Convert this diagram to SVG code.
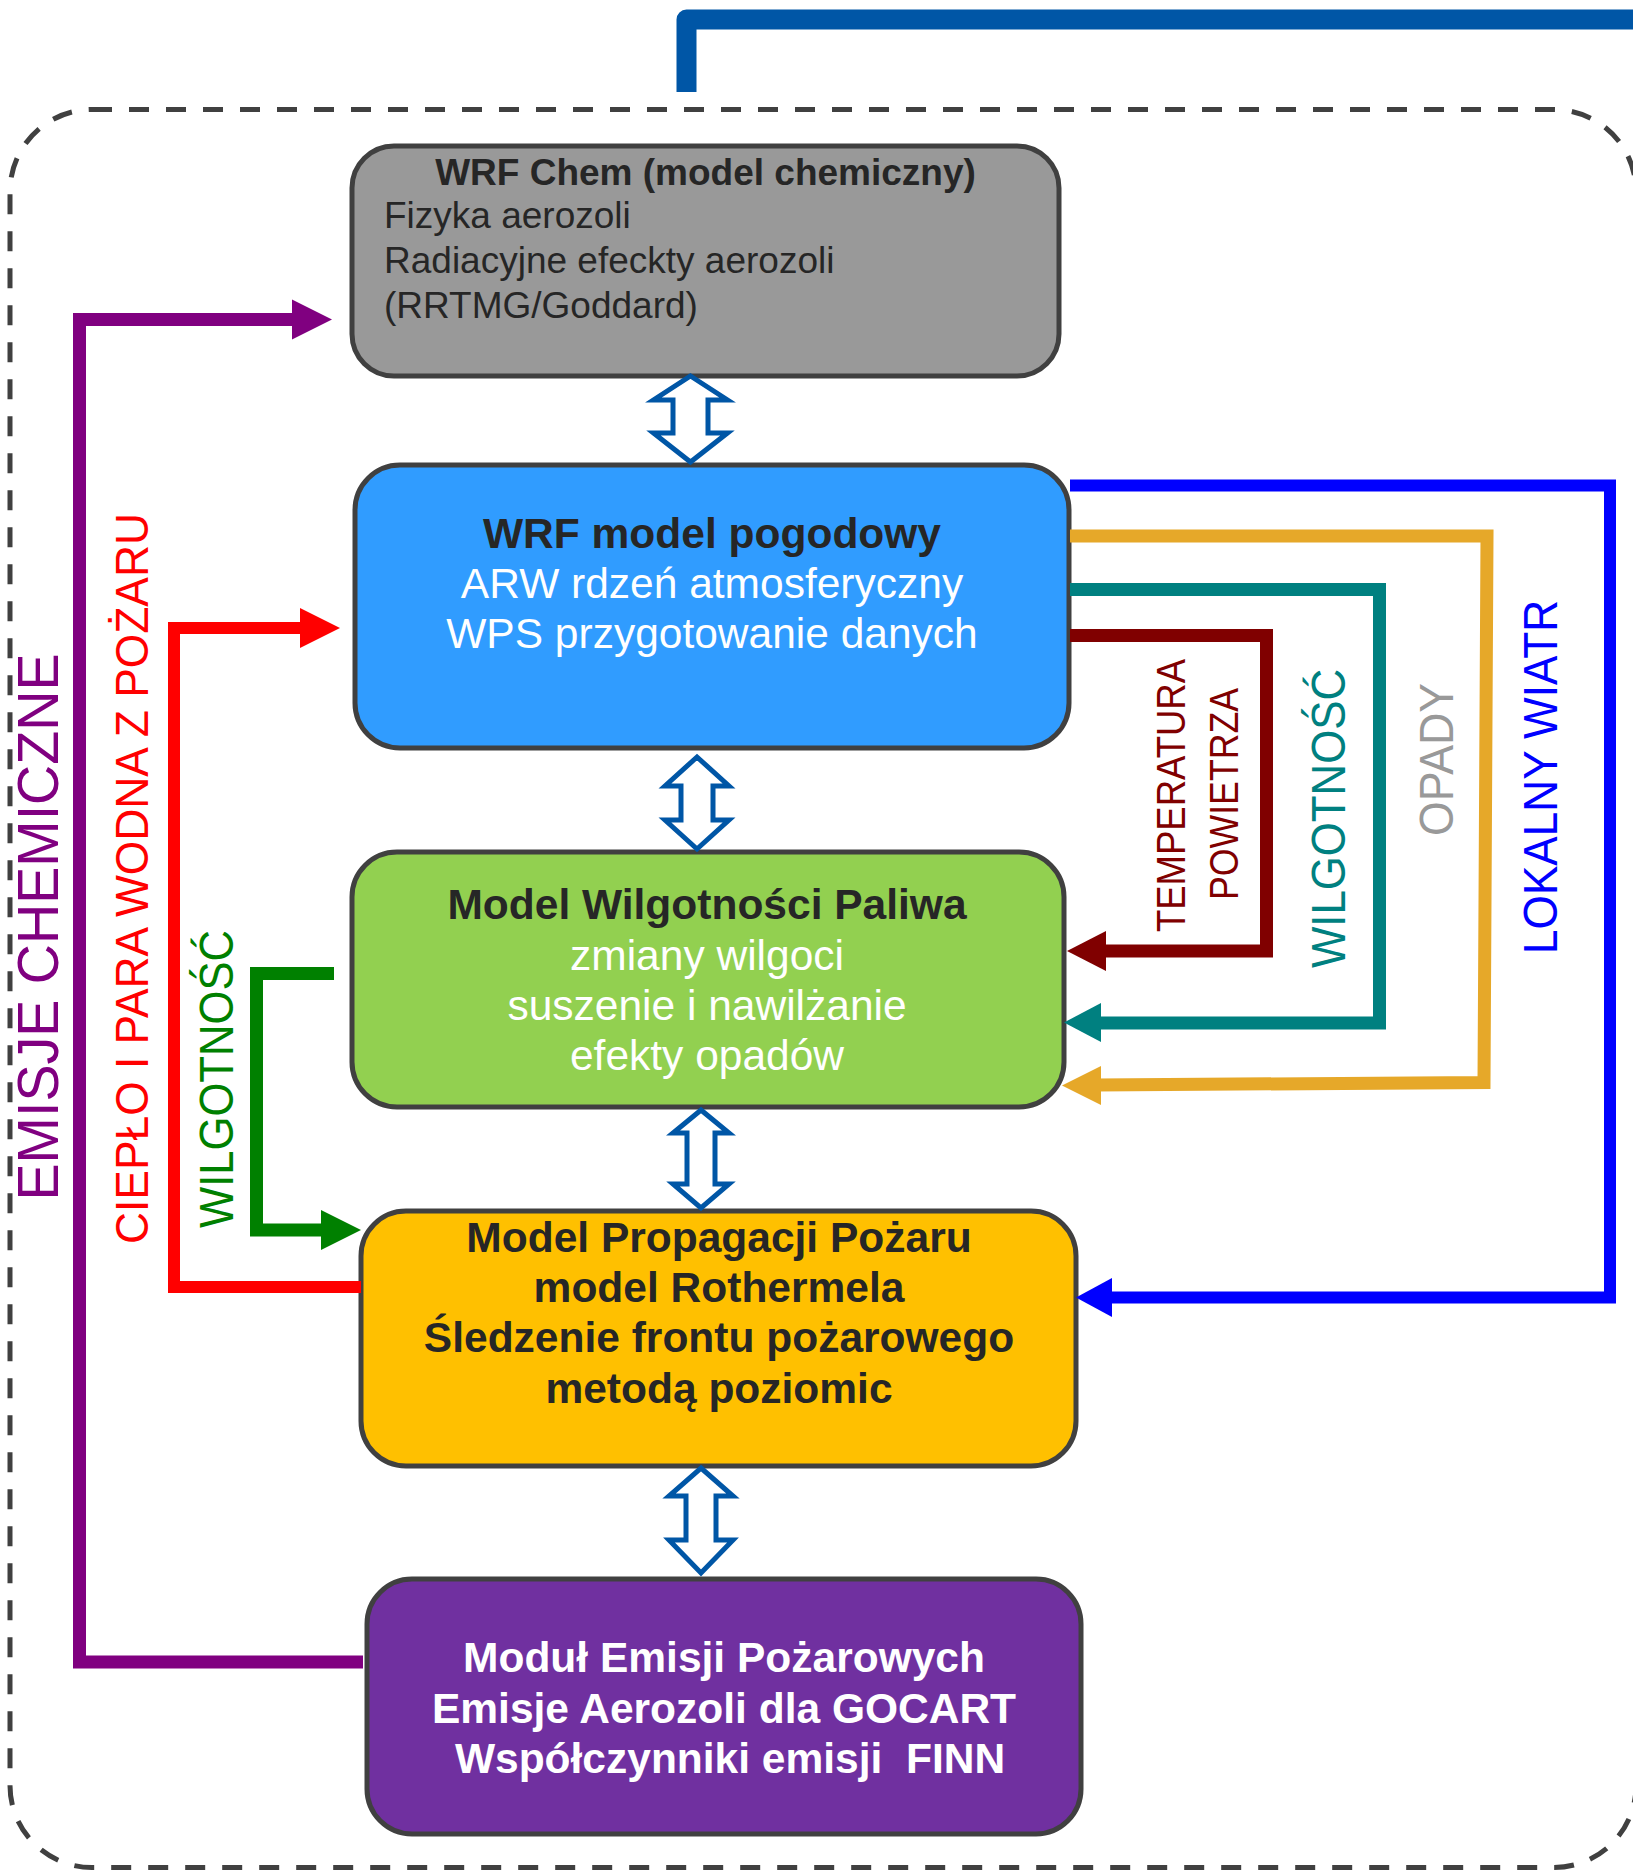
<svg xmlns="http://www.w3.org/2000/svg" width="1633" height="1870" viewBox="0 0 1633 1870">
  <style>
    .node { stroke: #404040; stroke-width: 5; }
    .txt { font-family: "Liberation Sans", Arial, sans-serif; }
    .b { font-weight: bold; }
    .mid { text-anchor: middle; }
    .dark { fill: #262626; }
    .white { fill: #ffffff; }
    .f37 { font-size: 37px; }
    .f42 { font-size: 42.5px; }
    .link { fill: none; stroke-linejoin: miter; }
    .dbl { fill: #ffffff; stroke: #0056A6; stroke-width: 5; stroke-linejoin: miter; }
    .vlab { font-family: "Liberation Sans", Arial, sans-serif; text-anchor: middle; }
  </style>

  <!-- dashed system boundary -->
  <rect id="frame" x="10" y="109.5" width="1626" height="1758" rx="82" ry="82"
        fill="none" stroke="#404040" stroke-width="5" stroke-dasharray="20 17"/>

  <!-- coupling line leaving the system at the top -->
  <path id="top-link" d="M686.5,92 V19.5 H1650" fill="none" stroke="#0056A6" stroke-width="20" stroke-linejoin="round"/>

  <!-- nodes -->
  <g id="node-wrf-chem">
    <rect class="node" x="352" y="146" width="707" height="230" rx="42" fill="#999999"/>
    <text class="txt b mid dark f37" x="705.5" y="185">WRF Chem (model chemiczny)</text>
    <text class="txt dark f37" x="384" y="228">Fizyka aerozoli</text>
    <text class="txt dark f37" x="384" y="273">Radiacyjne efeckty aerozoli</text>
    <text class="txt dark f37" x="384" y="318">(RRTMG/Goddard)</text>
  </g>

  <g id="node-wrf">
    <rect class="node" x="355" y="465" width="714" height="283" rx="45" fill="#309CFF"/>
    <text class="txt b mid dark f42" x="712" y="548">WRF model pogodowy</text>
    <text class="txt mid white f42" x="712" y="598">ARW rdzeń atmosferyczny</text>
    <text class="txt mid white f42" x="712" y="648">WPS przygotowanie danych</text>
  </g>

  <g id="node-fuel-moisture">
    <rect class="node" x="352" y="852" width="712" height="255" rx="45" fill="#92D050"/>
    <text class="txt b mid dark f42" x="707" y="919">Model Wilgotności Paliwa</text>
    <text class="txt mid white f42" x="707" y="970">zmiany wilgoci</text>
    <text class="txt mid white f42" x="707" y="1020">suszenie i nawilżanie</text>
    <text class="txt mid white f42" x="707" y="1070">efekty opadów</text>
  </g>

  <g id="node-fire-spread">
    <rect class="node" x="361" y="1211" width="715" height="255" rx="45" fill="#FFC000"/>
    <text class="txt b mid dark f42" x="719" y="1252">Model Propagacji Pożaru</text>
    <text class="txt b mid dark f42" x="719" y="1302">model Rothermela</text>
    <text class="txt b mid dark f42" x="719" y="1352">Śledzenie frontu pożarowego</text>
    <text class="txt b mid dark f42" x="719" y="1403">metodą poziomic</text>
  </g>

  <g id="node-emissions">
    <rect class="node" x="367" y="1579" width="714" height="255" rx="45" fill="#7030A0"/>
    <text class="txt b mid white f42" x="724" y="1672">Moduł Emisji Pożarowych</text>
    <text class="txt b mid white f42" x="724" y="1723">Emisje Aerozoli dla GOCART</text>
    <text class="txt b mid white f42" x="730" y="1773" xml:space="preserve">Współczynniki emisji  FINN</text>
  </g>

  <!-- connectors -->
  <g id="connectors">
    <!-- two-way couplings between stacked modules -->
    <path class="dbl" d="M690.5,376 L727.5,400 L708,400 L708,433 L727.5,433 L690.5,462 L653.5,433 L673,433 L673,400 L653.5,400 Z"/>
    <path class="dbl" d="M697,757 L729,786 L713,786 L713,820 L729,820 L697,849 L665,820 L681,820 L681,786 L665,786 Z"/>
    <path class="dbl" d="M701,1110 L729,1133 L715,1133 L715,1184 L729,1184 L701,1208 L673,1184 L687,1184 L687,1133 L673,1133 Z"/>
    <path class="dbl" d="M701,1468 L733,1496 L716,1496 L716,1540 L733,1540 L701,1573 L669,1540 L686,1540 L686,1496 L669,1496 Z"/>

    <!-- chemical emissions: emissions module -> WRF Chem -->
    <path class="link" stroke="#800080" stroke-width="13" d="M363,1662 H79.5 V319.5 H296"/>
    <polygon fill="#800080" points="292,299.5 332,319.5 292,339.5"/>

    <!-- heat and water vapour: fire spread -> WRF -->
    <path class="link" stroke="#FF0000" stroke-width="12" d="M361,1287 H174 V628 H304"/>
    <polygon fill="#FF0000" points="300,608 340,628 300,648"/>

    <!-- fuel moisture: fuel moisture model -> fire spread -->
    <path class="link" stroke="#008000" stroke-width="13" d="M334,973.5 H256.5 V1230 H325"/>
    <polygon fill="#008000" points="321,1210 361,1230 321,1250"/>

    <!-- air temperature: WRF -> fuel moisture -->
    <path class="link" stroke="#800000" stroke-width="13" d="M1070,635.5 H1266.5 V951 H1102"/>
    <polygon fill="#800000" points="1106,931 1067,951 1106,971"/>

    <!-- humidity: WRF -> fuel moisture -->
    <path class="link" stroke="#008080" stroke-width="13" d="M1070,589.5 H1379.5 V1023 H1097"/>
    <polygon fill="#008080" points="1101,1003 1064,1022.5 1101,1042"/>

    <!-- precipitation: WRF -> fuel moisture -->
    <path class="link" stroke="#E6A829" stroke-width="13" d="M1070,536 H1487 L1484,1082.5 L1097,1085"/>
    <polygon fill="#E6A829" points="1101,1066 1062,1085.5 1101,1105"/>

    <!-- local wind: WRF -> fire spread -->
    <path class="link" stroke="#0000FF" stroke-width="12" d="M1070,485.5 H1610 V1297.5 H1108"/>
    <polygon fill="#0000FF" points="1112,1278 1076,1297.5 1112,1317"/>
  </g>

  <!-- connector labels -->
  <g id="labels">
    <text class="vlab" fill="#800080" font-size="58" textLength="547" lengthAdjust="spacingAndGlyphs" transform="translate(58,927) rotate(-90)">EMISJE CHEMICZNE</text>
    <text class="vlab" fill="#FF0000" font-size="46" textLength="731" lengthAdjust="spacingAndGlyphs" transform="translate(148,878.5) rotate(-90)">CIEPŁO I PARA WODNA Z POŻARU</text>
    <text class="vlab" fill="#008000" font-size="48" textLength="298" lengthAdjust="spacingAndGlyphs" transform="translate(233,1079) rotate(-90)">WILGOTNOŚĆ</text>
    <text class="vlab" fill="#800000" font-size="40" textLength="273" lengthAdjust="spacingAndGlyphs" transform="translate(1185,795.5) rotate(-90)">TEMPERATURA</text>
    <text class="vlab" fill="#800000" font-size="40" textLength="212" lengthAdjust="spacingAndGlyphs" transform="translate(1238,794) rotate(-90)">POWIETRZA</text>
    <text class="vlab" fill="#008080" font-size="48" textLength="299" lengthAdjust="spacingAndGlyphs" transform="translate(1345,818.5) rotate(-90)">WILGOTNOŚĆ</text>
    <text class="vlab" fill="#999999" font-size="48" textLength="153" lengthAdjust="spacingAndGlyphs" transform="translate(1453,759.5) rotate(-90)">OPADY</text>
    <text class="vlab" fill="#0000FF" font-size="48" textLength="354" lengthAdjust="spacingAndGlyphs" transform="translate(1557,777) rotate(-90)">LOKALNY WIATR</text>
  </g>
</svg>
